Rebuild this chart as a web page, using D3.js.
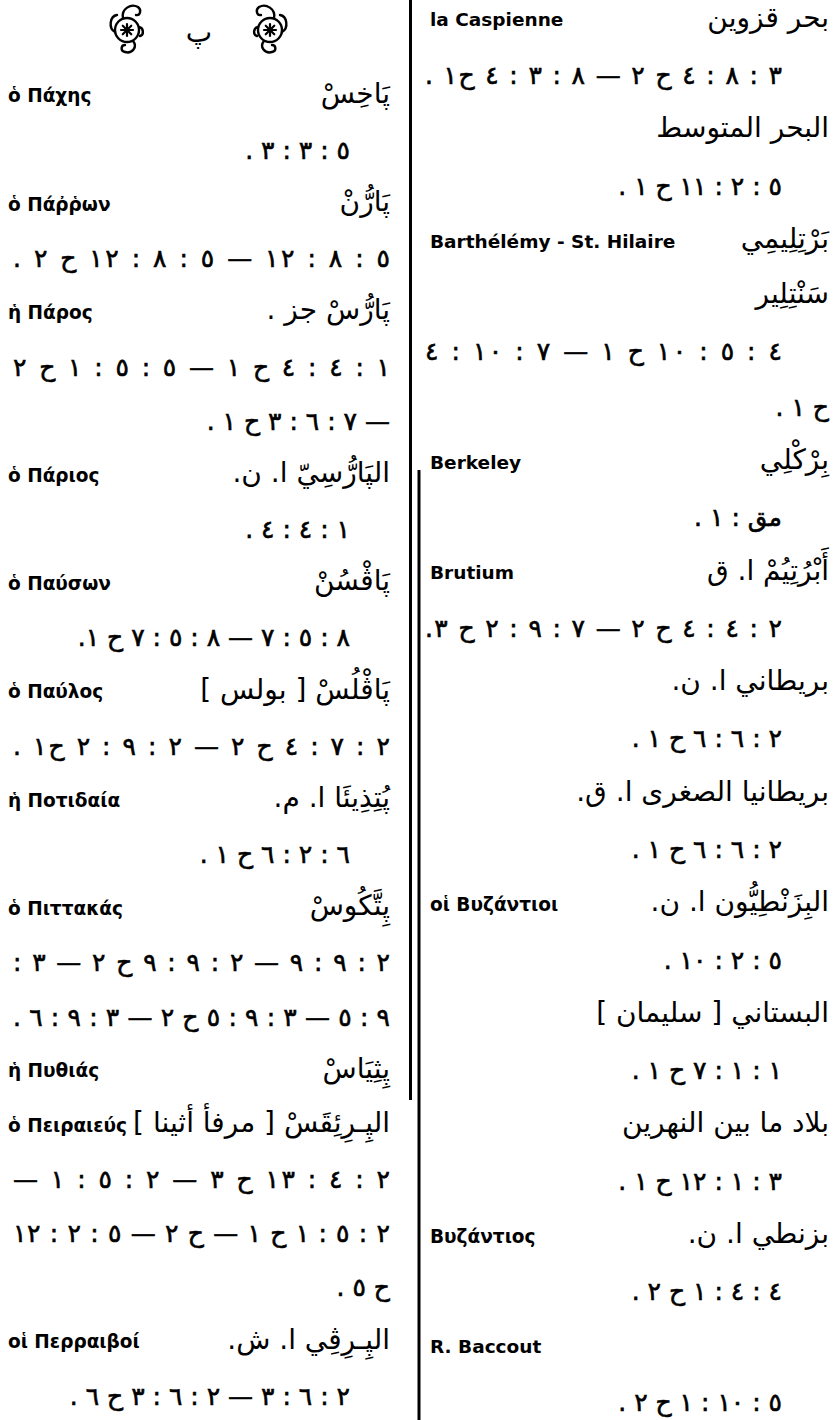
<!DOCTYPE html>
<html><head><meta charset="utf-8">
<script src="https://cdn.jsdelivr.net/npm/d3@7/dist/d3.min.js"></script>
<style>body{margin:0;background:#fff}svg{display:block}</style></head>
<body><svg id="c" width="837" height="1420"></svg>
<script>
// ---- data ----
const headerLetter = "پ";

const leftArabic = [
  "پَاخِسْ",
  "٥ : ٣ : ٣ .",
  "پَارُّنْ",
  "٥ : ٨ : ١٢ — ٥ : ٨ : ١٢ ح ٢ .",
  "پَارُّسْ جز .",
  "١ : ٤ : ٤ ح ١ — ٥ : ٥ : ١ ح ٢",
  "— ٧ : ٦ : ٣ ح ١ .",
  "الپَارُّسِيّ ا. ن.",
  "١ : ٤ : ٤ .",
  "پَاڤْسُنْ",
  "٨ : ٥ : ٧ — ٨ : ٥ : ٧ ح ١.",
  "پَاڤْلُسْ [ بولس ]",
  "٢ : ٧ : ٤ ح ٢ — ٢ : ٩ : ٢ ح١ .",
  "پُتِذِيئَا ا. م.",
  "٦ : ٢ : ٦ ح ١ .",
  "پِتَّكُوسْ",
  "٢ : ٩ : ٩ — ٢ : ٩ : ٩ ح ٢ — ٣ :",
  "٩ : ٥ — ٣ : ٩ : ٥ ح ٢ — ٣ : ٩ : ٦ .",
  "پِثِيَاسْ",
  "الپِـرِئِقَسْ [ مرفأ أثينا ]",
  "٢ : ٤ : ١٣ ح ٣ — ٢ : ٥ : ١ —",
  "٢ : ٥ : ١ ح ١ — ح ٢ — ٥ : ٢ : ١٢",
  "ح ٥ .",
  "الپِـرِڤِي ا. ش.",
  "٢ : ٦ : ٣ — ٢ : ٦ : ٣ ح ٦ ."
];
const leftLabels = [
  "ὁ Πάχης", "", "ὁ Πάῤῥων", "", "ἡ Πάρος", "", "", "ὁ Πάριος", "",
  "ὁ Παύσων", "", "ὁ Παύλος", "", "ἡ Ποτιδαία", "", "ὁ Πιττακάς", "", "",
  "ἡ Πυθιάς", "ὁ Πειραιεύς", "", "", "", "οἱ Περραιβοί", ""
];
// h = headword, r = reference line, rj = reference justified, j = full justified, c = continuation
const leftKinds = [
  "h","r","h","j","h","j","c","h","r","h","r","h","j","h","r","h","j","j","h","h","j","j","c","h","r"
];

const rightArabic = [
  "بحر قزوين",
  "٣ : ٨ : ٤ ح ٢ — ٨ : ٣ : ٤ ح١ .",
  "البحر المتوسط",
  "٥ : ٢ : ١١ ح ١ .",
  "بَرْتِلِيمِي",
  "سَنْتِلِير",
  "٤ : ٥ : ١٠ ح ١ — ٧ : ١٠ : ٤",
  "ح ١ .",
  "بِرْكْلِي",
  "مق : ١ .",
  "أَبْرُتِيُمْ ا. ق",
  "٢ : ٤ : ٤ ح ٢ — ٧ : ٩ : ٢ ح ٣.",
  "بريطاني ا. ن.",
  "٢ : ٦ : ٦ ح ١ .",
  "بريطانيا الصغرى ا. ق.",
  "٢ : ٦ : ٦ ح ١ .",
  "البِزَنْطِيُّون ا. ن.",
  "٥ : ٢ : ١٠ .",
  "البستاني [ سليمان ]",
  "١ : ١ : ٧ ح ١ .",
  "بلاد ما بين النهرين",
  "٣ : ١ : ١٢ ح ١ .",
  "بزنطي ا. ن.",
  "٤ : ٤ : ١ ح ٢ .",
  "",
  "٥ : ١٠ : ١ ح ٢ ."
];
const rightLabels = [
  "la Caspienne", "", "", "", "Barthélémy - St. Hilaire", "", "", "",
  "Berkeley", "", "Brutium", "", "", "", "", "", "οἱ Βυζάντιοι", "",
  "", "", "", "", "Βυζάντιος", "", "R. Baccout", ""
];
const rightKinds = [
  "h","rj","h","r","h","h","rj","c","h","r","h","rj","h","r","h","r","h","r","h","r","h","r","h","r","h","r"
];

// ---- drawing ----
const W = 837, H = 1420;
const svg = d3.select("#c");
svg.append("rect").attr("width", W).attr("height", H).attr("fill", "#fff");

const AR_FONT = "'DejaVu Sans', sans-serif";
const LAB_FONT = "'DejaVu Sans', sans-serif";

function drawColumn(arabic, labels, kinds, cfg) {
  const y = d3.scaleLinear().domain([0, arabic.length - 1]).range([cfg.y0, cfg.y1]);
  const g = svg.append("g");
  const rows = arabic.map((t, i) => ({ t, i, k: kinds[i], lab: labels[i] }));

  g.selectAll("text.lab").data(rows.filter(d => d.lab)).join("text")
    .attr("class", "lab")
    .attr("x", cfg.labelX).attr("y", d => y(d.i)).attr("dy", "0.35em")
    .attr("font-family", LAB_FONT).attr("font-weight", "bold").attr("font-size", 18.5)
    .attr("fill", "#000")
    .text(d => d.lab);

  const ar = g.selectAll("text.ar").data(rows.filter(d => d.t)).join("text")
    .attr("class", "ar")
    .attr("direction", "rtl").style("direction", "rtl").attr("text-anchor", "start")
    .attr("x", d => (d.k === "r" || d.k === "rj") ? cfg.indent : cfg.right)
    .attr("y", d => y(d.i) + (d.k === "h" ? -3 : 0)).attr("dy", "0.35em")
    .attr("font-family", AR_FONT)
    .attr("font-size", d => d.k === "h" ? 28 : 25)
    .attr("fill", "#000")
    .attr("stroke", d => d.k === "h" ? "none" : "#000")
    .attr("stroke-width", 0.6)
    .text(d => d.t);

  ar.filter(d => d.k === "j" || d.k === "rj").each(function (d) {
    const target = (d.k === "j" ? cfg.right : cfg.indent) - cfg.left;
    d3.select(this).attr("textLength", target).attr("lengthAdjust", "spacing");
  });
}

drawColumn(leftArabic, leftLabels, leftKinds,
  { y0: 96, y1: 1396, right: 390, indent: 350, left: 13, labelX: 8 });
drawColumn(rightArabic, rightLabels, rightKinds,
  { y0: 20, y1: 1402, right: 829, indent: 782, left: 425, labelX: 430 });

// divider rules (two slightly offset scanned segments)
svg.append("line").attr("x1", 410.5).attr("x2", 410.5).attr("y1", 0).attr("y2", 1100)
  .attr("stroke", "#000").attr("stroke-width", 3);
svg.append("line").attr("x1", 419).attr("x2", 419).attr("y1", 470).attr("y2", H)
  .attr("stroke", "#000").attr("stroke-width", 3);

// header ornaments
function ornament(cx, cy, mirror) {
  const g = svg.append("g").attr("transform", `translate(${cx},${cy}) scale(${mirror ? -1 : 1},1)`)
    .attr("fill", "none").attr("stroke", "#000").attr("stroke-width", 2.4).attr("stroke-linecap", "round");
  g.append("circle").attr("r", 12);
  const star = d3.range(8).map(k => k * Math.PI / 4);
  g.selectAll("line.s").data(star).join("line").attr("class", "s")
    .attr("x1", 0).attr("y1", 0)
    .attr("x2", a => 6 * Math.cos(a)).attr("y2", a => 6 * Math.sin(a)).attr("stroke-width", 2.2);
  g.append("path").attr("d", "M-4,-12 C-6,-21 4,-27 11,-23 C15,-20 13,-14 9,-15");
  g.append("path").attr("d", "M-12,2 C-19,-2 -17,-14 -10,-15");
  g.append("path").attr("d", "M6,11 C11,17 5,24 -2,22 C-7,21 -6,15 -2,15");
  g.append("path").attr("d", "M12,-3 C17,-2 17,5 13,6");
}
ornament(127, 30, false);
ornament(270, 30, true);
svg.append("text").attr("x", 199).attr("y", 42).attr("text-anchor", "middle")
  .attr("font-family", AR_FONT).attr("font-size", 28).text(headerLetter);
</script>
</body></html>
